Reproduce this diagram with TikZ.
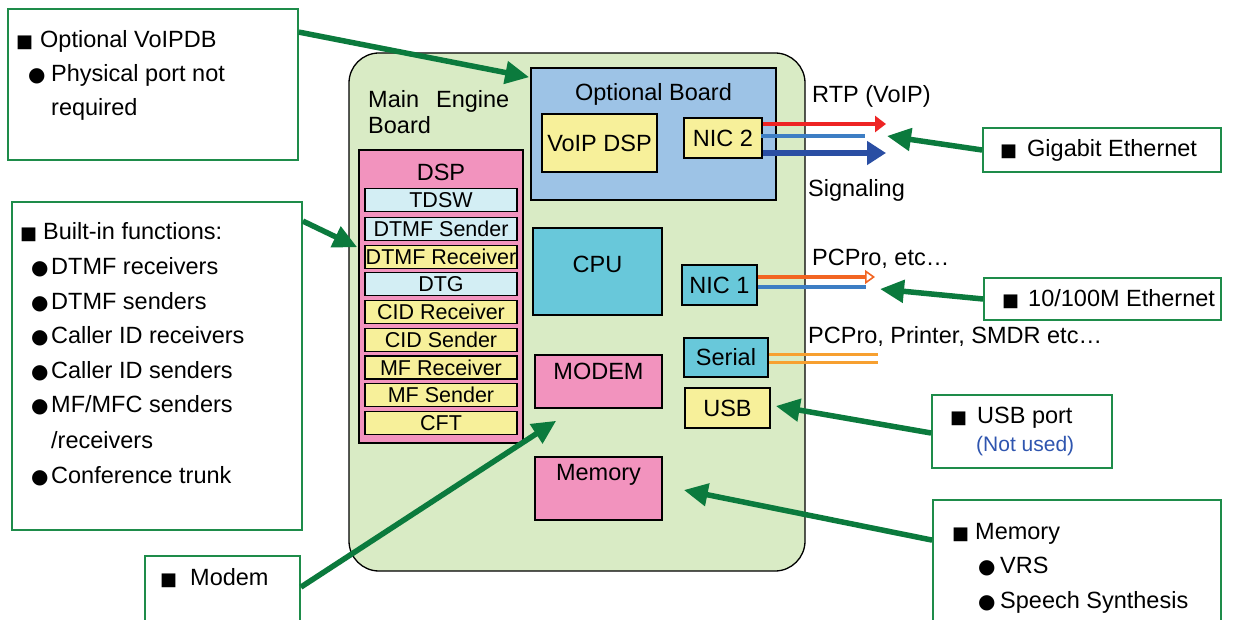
\documentclass[tikz,border=0pt]{standalone}
\usepackage{fontspec}
\setmainfont{Liberation Sans}
\newfontfamily\symfont{DejaVu Sans}
\usetikzlibrary{arrows.meta,calc}
\definecolor{boardg}{HTML}{D9EBC5}
\definecolor{optblue}{HTML}{9DC3E6}
\definecolor{yel}{HTML}{F7F09A}
\definecolor{teal}{HTML}{68C8DA}
\definecolor{pinkb}{HTML}{F293BE}
\definecolor{lcyan}{HTML}{D3EEF4}
\definecolor{cgreen}{HTML}{1E8C4A}
\definecolor{agreen}{HTML}{0B7A3D}
\definecolor{rtpred}{HTML}{EE2424}
\definecolor{lblue}{HTML}{3D7EC4}
\definecolor{dblue}{HTML}{2A4EA3}
\definecolor{nicorange}{HTML}{F26522}
\definecolor{serorange}{HTML}{F7A030}
\definecolor{notused}{HTML}{2F55AF}
\newcommand{\mysq}[1]{\makebox[#1][l]{\symfont\fontsize{18}{22}\selectfont ■}}
\newcommand{\mybul}[1]{\makebox[#1][l]{\symfont\fontsize{20}{24}\selectfont ●}}
\newcommand{\fsmain}{\fontsize{23.5}{28}\selectfont}
\newcommand{\fssub}{\fontsize{21.5}{25}\selectfont}
\tikzset{
  blk/.style={draw=black, line width=1.6pt, inner sep=0pt, font=\fsmain, text height=16.8pt, text depth=0pt},
  sub/.style={draw=black, line width=1.4pt, inner sep=0pt, minimum width=152pt, minimum height=23pt, font=\fssub, text height=15.4pt, text depth=0pt},
  callout/.style={draw=cgreen, line width=1.8pt, fill=white, inner sep=0pt},
  tl/.style={anchor=base west, inner sep=0pt, font=\fsmain},
  tc/.style={anchor=center, inner sep=0pt, font=\fsmain, text height=16.8pt, text depth=0pt},
  garrow/.style={draw=agreen, line width=5.5pt, -{Triangle[length=24pt,width=22pt]}},
}
\begin{document}
\begin{tikzpicture}[x=1pt,y=-1pt]
\clip (0,0) rectangle (1235,620);
\fill[white] (0,0) rectangle (1235,620);

% main engine board
\node[draw=black, line width=1.3pt, fill=boardg, rounded corners=30pt, minimum width=456pt, minimum height=518pt, inner sep=0pt] (meb) at (577,312) {};
\node[tl] (mebt1) at (368,108) {Main\hspace{17pt}Engine};
\node[tl] (mebt2) at (368,134) {Board};

% optional board
\node[blk, fill=optblue, minimum width=245pt, minimum height=132pt] (ob) at (653.5,134) {};
\node[tc] (obt) at (653.5,92) {Optional Board};
\node[blk, fill=yel, minimum width=115pt, minimum height=58pt] (vdsp) at (599.5,143) {VoIP DSP};
\node[blk, fill=yel, minimum width=78pt, minimum height=40pt] (nic2) at (723,138) {NIC 2};

% DSP
\node[blk, fill=pinkb, minimum width=164pt, minimum height=293pt] (dsp) at (441,296.5) {};
\node[tc] (dspt) at (441,172) {DSP};
\node[sub, fill=lcyan] (s1) at (441,200) {TDSW};
\node[sub, fill=lcyan] (s2) at (441,229) {DTMF Sender};
\node[sub, fill=yel] (s3) at (441,257) {DTMF Receiver};
\node[sub, fill=lcyan] (s4) at (441,284) {DTG};
\node[sub, fill=yel] (s5) at (441,312) {CID Receiver};
\node[sub, fill=yel] (s6) at (441,340) {CID Sender};
\node[sub, fill=yel] (s7) at (441,367.5) {MF Receiver};
\node[sub, fill=yel] (s8) at (441,395) {MF Sender};
\node[sub, fill=yel] (s9) at (441,423) {CFT};

% CPU, modem, memory
\node[blk, fill=teal, minimum width=129pt, minimum height=87pt] (cpu) at (597.5,271.5) {};
\node[tc] (cput) at (597.5,264) {CPU};
\node[blk, fill=pinkb, minimum width=127pt, minimum height=53pt] (modem) at (598.5,381.5) {};
\node[tc] (modemt) at (598.5,371) {MODEM};
\node[blk, fill=pinkb, minimum width=127pt, minimum height=63pt] (mem) at (598.5,488.5) {};
\node[tc] (memt) at (598.5,472) {Memory};

% ports
\node[blk, fill=teal, minimum width=75pt, minimum height=40pt] (nic1) at (719.5,285) {NIC 1};
\node[blk, fill=teal, minimum width=84pt, minimum height=39pt] (serial) at (726,357.5) {Serial};
\node[blk, fill=yel, minimum width=85pt, minimum height=40pt] (usb) at (727.5,408) {USB};

% network lines
\coordinate (rtpend) at (886,124);
\coordinate (lbend) at (865,136);
\coordinate (sigend) at (886,153);
\draw[rtpred, line width=4.5pt, -{Triangle[length=11pt,width=16pt]}] ($(nic2.east)+(0,-14)$) -- (rtpend);
\draw[lblue, line width=4.5pt] ($(nic2.east)+(-2,-2)$) -- (lbend);
\draw[dblue, line width=6pt, -{Triangle[length=19pt,width=23pt]}] ($(nic2.east)+(0,15)$) -- (sigend);

\coordinate (pcend) at (875,277);
\coordinate (pcbend) at (866,287);
\draw[nicorange, line width=4pt, -{Triangle[open,length=10pt,width=14pt,line width=1.6pt]}] ($(nic1.east)+(0,-8)$) -- (pcend);
\draw[lblue, line width=4pt] ($(nic1.east)+(0,2)$) -- (pcbend);

\coordinate (ser1) at (878,355);
\coordinate (ser2) at (878,363);
\draw[serorange, line width=3pt] ($(serial.east)+(0,-2.5)$) -- (ser1);
\draw[serorange, line width=3pt] ($(serial.east)+(0,5.5)$) -- (ser2);

\node[tl] (rtpt) at (812,103) {RTP (VoIP)};
\node[tl] (sigt) at (808,197) {Signaling};
\node[tl] (pct) at (812,266) {PCPro, etc…};
\node[tl] (pcpt) at (808,344) {PCPro, Printer, SMDR etc…};

% callouts
\node[callout, minimum width=290pt, minimum height=151pt] (cvoip) at (153,84.5) {};
\node[tl] (v1) at (16,48) {\mysq{24pt}Optional VoIPDB};
\node[tl] (v2) at (28,82) {\mybul{23pt}Physical port not};
\node[tl] (v3) at (51,116) {required};

\node[callout, minimum width=290pt, minimum height=328pt] (cbuilt) at (157,366) {};
\node[tl] (b0) at (20,240) {\mysq{23pt}Built-in functions:};
\node[tl] (b1) at (31,275) {\mybul{20pt}DTMF receivers};
\node[tl] (b2) at (31,310) {\mybul{20pt}DTMF senders};
\node[tl] (b3) at (31,344) {\mybul{20pt}Caller ID receivers};
\node[tl] (b4) at (31,379) {\mybul{20pt}Caller ID senders};
\node[tl] (b5) at (31,413) {\mybul{20pt}MF/MFC senders};
\node[tl] (b6) at (51,448) {/receivers};
\node[tl] (b7) at (31,483) {\mybul{20pt}Conference trunk};

\node[callout, minimum width=155pt, minimum height=84pt] (cmodem) at (222.5,598) {};
\node[tl] (m1) at (160,585) {\mysq{30pt}Modem};

\node[callout, minimum width=238pt, minimum height=44pt] (cgig) at (1102,150) {};
\node[tl] (g1) at (1000,157) {\mysq{27pt}Gigabit Ethernet};

\node[callout, minimum width=237pt, minimum height=42pt] (ceth) at (1102.5,299) {};
\node[tl] (e1) at (1002,307) {\mysq{26pt}10/100M Ethernet};

\node[callout, minimum width=180pt, minimum height=73pt] (cusb) at (1022,431.5) {};
\node[tl] (u1) at (950,424) {\mysq{27pt}USB port};
\node[tl, font=\fontsize{21}{25}\selectfont, text=notused] (u2) at (976,451) {(Not used)};

\node[callout, minimum width=288pt, minimum height=140pt] (cmem) at (1077,570) {};
\node[tl] (r1) at (952,539) {\mysq{23pt}Memory};
\node[tl] (r2) at (978,573) {\mybul{22pt}VRS};
\node[tl] (r3) at (978,608) {\mybul{22pt}Speech Synthesis};

% green callout arrows
\coordinate (gtip) at (887,136);
\coordinate (etip) at (880,289);
\draw[garrow] ($(cvoip.north east)+(0,24)$) -- ($(ob.north west)+(-1,10)$);
\draw[garrow] ($(cbuilt.north east)+(0,20)$) -- ($(dsp.north west)+(-1,98)$);
\draw[garrow] ($(cmodem.north east)+(0,32)$) -- ($(modem.south west)+(22,12)$);
\draw[garrow] (cgig.west) -- (gtip);
\draw[garrow] (ceth.west) -- (etip);
\draw[garrow] ($(cusb.west)+(0,1.5)$) -- ($(usb.east)+(5,-2)$);
\draw[garrow] ($(cmem.north west)+(0,41)$) -- ($(mem.east)+(21,1.5)$);
\end{tikzpicture}
\end{document}
